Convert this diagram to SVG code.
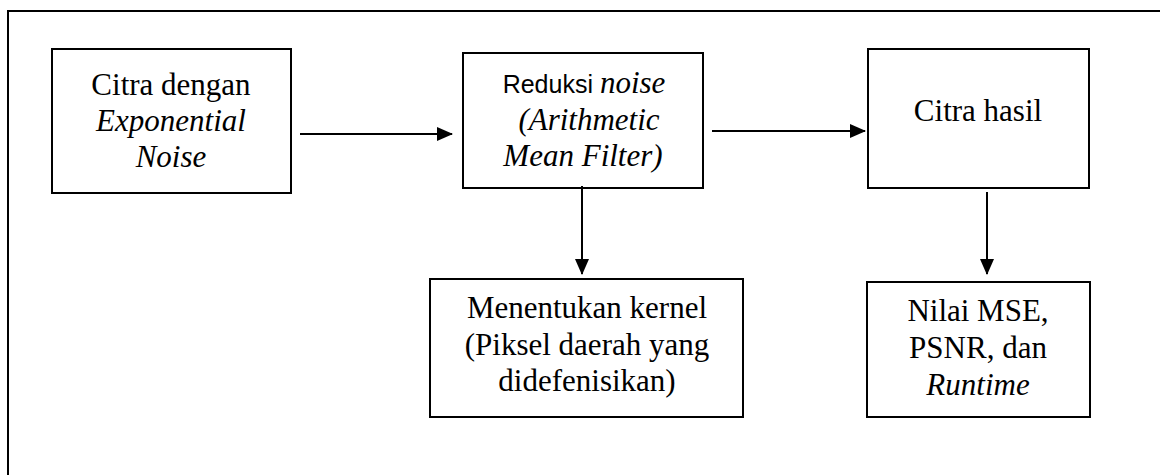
<svg xmlns="http://www.w3.org/2000/svg" width="1160" height="475" viewBox="0 0 1160 475">
  <style>
    .box { fill: #fff; stroke: #000; stroke-width: 2; }
    .frame { fill: none; stroke: #000; stroke-width: 2; }
    .edge { fill: none; stroke: #000; stroke-width: 2; }
    .t { font-family: "Liberation Serif", "Times New Roman", serif; font-size: 31px; fill: #000; text-anchor: middle; }
    .s { font-family: "Liberation Sans", Arial, sans-serif; font-size: 25px; }
    .i { font-style: italic; }
  </style>
  <defs>
    <marker id="arrow" markerWidth="16" markerHeight="14" refX="15" refY="7" orient="auto" markerUnits="userSpaceOnUse">
      <path d="M0,0 L16,7 L0,14 Z" fill="#000"/>
    </marker>
  </defs>
  <rect width="1160" height="475" fill="#fff"/>
  <!-- outer frame, running past the right and bottom edges -->
  <path class="frame" d="M8,480 L8,11 L1170,11"/>

  <g id="input">
    <rect class="box" x="52" y="49" width="239" height="144"/>
    <text class="t" x="171" y="95">Citra dengan</text>
    <text class="t i" x="171" y="131">Exponential</text>
    <text class="t i" x="171" y="167">Noise</text>
  </g>

  <g id="reduce">
    <rect class="box" x="463" y="53" width="240" height="135"/>
    <text class="t" x="584" y="93"><tspan class="s">Reduksi </tspan><tspan class="i">noise</tspan></text>
    <text class="t i" x="589" y="130">(Arithmetic</text>
    <text class="t i" x="583" y="166">Mean Filter)</text>
  </g>

  <g id="result">
    <rect class="box" x="868" y="49" width="221" height="139"/>
    <text class="t" x="978" y="121">Citra hasil</text>
  </g>

  <g id="kernel">
    <rect class="box" x="430" y="279" width="313" height="138"/>
    <text class="t" x="587" y="318">Menentukan kernel</text>
    <text class="t" x="587" y="355">(Piksel daerah yang</text>
    <text class="t" x="587" y="391">didefenisikan)</text>
  </g>

  <g id="metrics">
    <rect class="box" x="867" y="282" width="223" height="135"/>
    <text class="t" x="978" y="321">Nilai MSE,</text>
    <text class="t" x="978" y="358">PSNR, dan</text>
    <text class="t i" x="978" y="395">Runtime</text>
  </g>

  <g id="connectors">
    <line class="edge" x1="300" y1="134" x2="452" y2="134" marker-end="url(#arrow)"/>
    <line class="edge" x1="712" y1="131" x2="865" y2="131" marker-end="url(#arrow)"/>
    <line class="edge" x1="582" y1="186" x2="582" y2="274" marker-end="url(#arrow)"/>
    <line class="edge" x1="987" y1="192" x2="987" y2="274" marker-end="url(#arrow)"/>
  </g>
</svg>
